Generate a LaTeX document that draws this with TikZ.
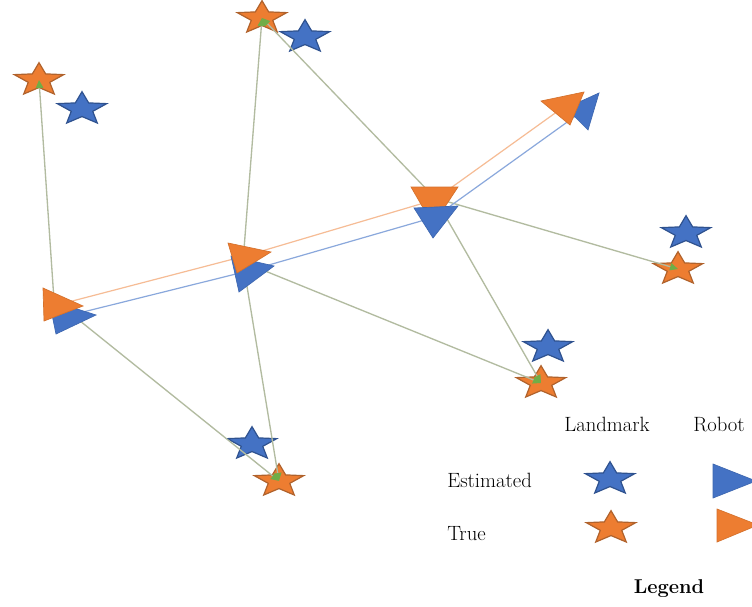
\documentclass[tikz,border=0pt]{standalone}
\usepackage{fontspec}
\usetikzlibrary{shapes.geometric,arrows.meta}
\definecolor{ofill}{HTML}{ED7D31}
\definecolor{oedge}{HTML}{B0622C}
\definecolor{bfill}{HTML}{4472C4}
\definecolor{bedge}{HTML}{2F528F}
\definecolor{lmline}{HTML}{B2BBA0}
\definecolor{tipgreen}{HTML}{70AD47}
\definecolor{otraj}{HTML}{F6BC95}
\definecolor{btraj}{HTML}{8AA8DC}
\begin{document}
\begin{tikzpicture}[x=0.75pt,y=-0.75pt,
  lmstar/.style={star, star points=5, star point ratio=2.3, minimum size=26pt, inner sep=0pt, xscale=1.5, line width=0.9pt},
  trueLm/.style={lmstar, fill=ofill, draw=oedge},
  estLm/.style={lmstar, fill=bfill, draw=bedge},
  meas/.style={draw=lmline, line width=1pt, -{Triangle[length=6pt,width=5.5pt,color=tipgreen]}},
  otrack/.style={draw=otraj, line width=0.9pt},
  btrack/.style={draw=btraj, line width=0.9pt},
  robT/.style={fill=ofill, draw=ofill!90!black, line width=0.5pt},
  robE/.style={fill=bfill, draw=bfill!90!black, line width=0.5pt},
  lab/.style={font=\fontsize{15.5}{18}\selectfont, inner sep=0pt}
]
\useasboundingbox (0,0) rectangle (752,606);
\fill[white] (0,0) rectangle (752,606);
\clip (0,0) rectangle (752,606);

% landmarks
\node[trueLm] (l1t) at (39,80) {};
\node[estLm]  (l1e) at (82,109) {};
\node[trueLm] (l2t) at (262,18) {};
\node[estLm]  (l2e) at (305,37) {};
\node[estLm]  (l3e) at (686,233) {};
\node[trueLm] (l3t) at (678,269) {};
\node[estLm]  (l4e) at (548,347) {};
\node[trueLm] (l4t) at (541,383) {};
\node[estLm]  (l5e) at (252,444) {};
\node[trueLm] (l5t) at (279,481) {};

% robot reference points
\coordinate (r1t) at (57,305);
\coordinate (r2t) at (245,256);
\coordinate (r3t) at (434,200);
\coordinate (r4t) at (565,106);
\coordinate (r1e) at (67,316);
\coordinate (r2e) at (248,271);
\coordinate (r3e) at (435,217);
\coordinate (r4e) at (584,110);
\coordinate (r1m) at (54,300);
\coordinate (r2m) at (243,262);
\coordinate (r3m) at (435,198);

% measurements
\draw[meas] (r1m) -- (l1t.center);
\draw[meas] (r1m) -- (l5t.center);
\draw[meas] (r2m) -- (l2t.center);
\draw[meas] (r2m) -- (l4t.center);
\draw[meas] (r2m) -- (l5t.center);
\draw[meas] (r3m) -- (l2t.center);
\draw[meas] (r3m) -- (l3t.center);
\draw[meas] (r3m) -- (l4t.center);

% trajectories
\draw[otrack] (r1t) -- (r2t) -- (r3t) -- (r4t);
\draw[btrack] (r1e) -- (r2e) -- (r3e) -- (r4e);

% robots
\filldraw[robE] (49,300) -- (56,334) -- (96,315) -- cycle;
\filldraw[robT] (43,288) -- (44,321) -- (83,306) -- cycle;
\filldraw[robE] (231,256) -- (274,266) -- (239,292) -- cycle;
\filldraw[robT] (228,243) -- (271,252) -- (237,273) -- cycle;
\filldraw[robT] (411,187) -- (458,187) -- (433,225) -- cycle;
\filldraw[robE] (414,208) -- (458,206) -- (433,238) -- cycle;
\filldraw[robE] (599,93) -- (566,108) -- (588,130) -- cycle;
\filldraw[robT] (541,101) -- (584,92) -- (570,125) -- cycle;

% legend
\node[lab, anchor=base] (hLand) at (607,431) {Landmark};
\node[lab, anchor=base west] (hRob) at (693,431) {Robot};
\node[lab, anchor=base west] (hEst) at (447,487) {Estimated};
\node[lab, anchor=base west] (hTrue) at (447,540) {True};
\node[estLm] (legE) at (610,479) {};
\node[trueLm] (legT) at (611,528) {};
\filldraw[robE] (713,464) -- (713,498) -- (756,481) -- cycle;
\filldraw[robT] (717,509) -- (717,542) -- (758,525) -- cycle;
\node[lab, font=\fontsize{15}{18}\selectfont\bfseries, anchor=base] (hLeg) at (669,593) {Legend};
\end{tikzpicture}
\end{document}
